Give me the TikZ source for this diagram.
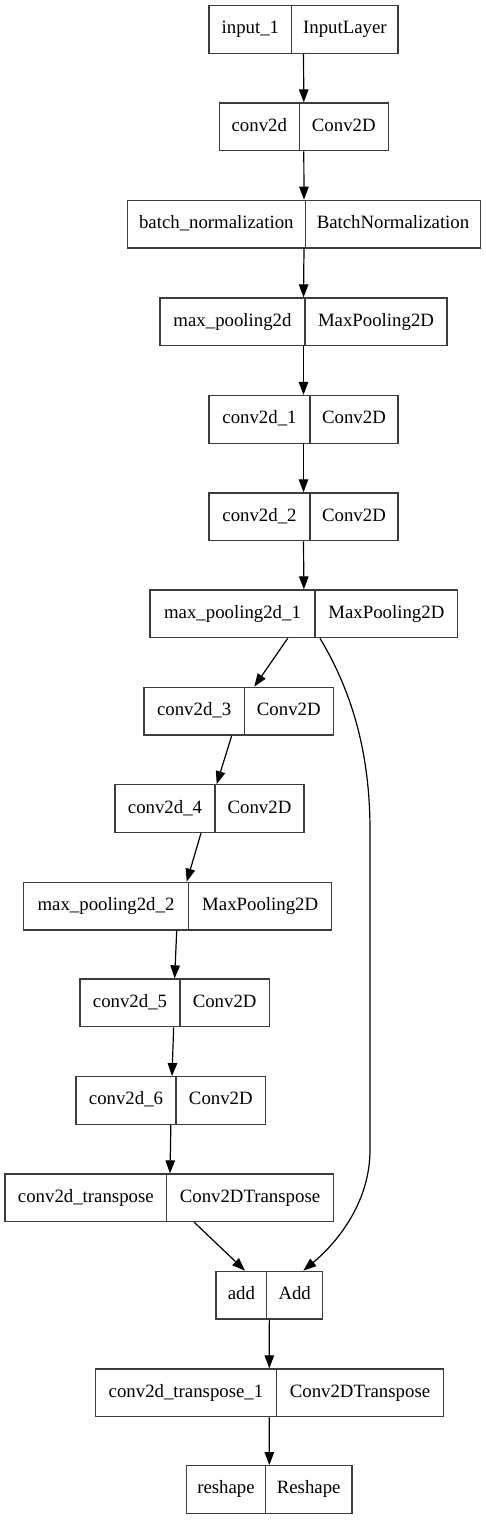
\documentclass[tikz,border=0pt]{standalone}
\usepackage{fontspec}
\setmainfont{Liberation Serif}
\usetikzlibrary{arrows.meta}
\definecolor{boxgray}{RGB}{60,60,60}
\tikzset{
  recbox/.style={draw=boxgray, line width=1.3pt, inner sep=0pt, minimum height=47.7pt},
  recline/.style={draw=boxgray, line width=1.3pt},
  rectxt/.style={inner sep=0pt, font=\fontsize{18.8}{22}\selectfont},
  edge/.style={draw=black, line width=1.2pt, -{Triangle[length=13pt,width=9.5pt]}}
}
\newcommand\rec[7]{%
  \pgfmathsetmacro\rw{#4-#2}%
  \pgfmathsetmacro\rcx{(#2+#4)/2}%
  \pgfmathsetmacro\ryc{-(#5+23.85)}%
  \pgfmathsetmacro\rlx{(#2+#3)/2}%
  \pgfmathsetmacro\rrx{(#3+#4)/2}%
  \pgfmathsetmacro\ryb{-(#5+47.7)}%
  \node[recbox, minimum width=\rw pt] (#1) at (\rcx,\ryc) {};
  \draw[recline] (#3,-#5) -- (#3,\ryb);
  \node[rectxt] at (\rlx,\ryc) {\strut #6};
  \node[rectxt] at (\rrx,\ryc) {\strut #7};
}
\begin{document}
\begin{tikzpicture}[x=1pt,y=1pt]
\useasboundingbox (0,0) rectangle (486,-1520);
\fill[white] (0,0) rectangle (486,-1520);
\rec{in}{209}{291.7}{398}{5.7}{input\_1}{InputLayer}
\rec{c0}{219.3}{299.3}{388.3}{103}{conv2d}{Conv2D}
\rec{bn}{127.3}{305.3}{480.7}{200.3}{batch\_normalization}{BatchNormalization}
\rec{mp}{160}{305}{447}{298}{max\_pooling2d}{MaxPooling2D}
\rec{c1}{209}{310}{398}{395.5}{conv2d\_1}{Conv2D}
\rec{c2}{209}{310}{398}{493}{conv2d\_2}{Conv2D}
\rec{mpa}{150}{315}{457.7}{590}{max\_pooling2d\_1}{MaxPooling2D}
\rec{c3}{144}{244.3}{333.3}{687.3}{conv2d\_3}{Conv2D}
\rec{c4}{115}{215}{304}{784.8}{conv2d\_4}{Conv2D}
\rec{mpb}{23.3}{188.7}{331.7}{882.3}{max\_pooling2d\_2}{MaxPooling2D}
\rec{c5}{80}{180}{269.3}{979}{conv2d\_5}{Conv2D}
\rec{c6}{76}{176}{265.7}{1076.7}{conv2d\_6}{Conv2D}
\rec{ct}{5}{166.7}{333.3}{1174}{conv2d\_transpose}{Conv2DTranspose}
\rec{add}{216}{266.7}{322.7}{1271.3}{add}{Add}
\rec{cta}{95.3}{276.7}{443.3}{1369}{conv2d\_transpose\_1}{Conv2DTranspose}
\rec{rs}{186.7}{265.3}{352}{1465.7}{reshape}{Reshape}
\draw[edge] (in.south) -- (c0.north);
\draw[edge] (c0.south) -- (bn.north);
\draw[edge] (bn.south) -- (mp.north);
\draw[edge] (mp.south) -- (c1.north);
\draw[edge] (c1.south) -- (c2.north);
\draw[edge] (c2.south) -- (mpa.north);
\draw[edge] ([xshift=-16.15pt]mpa.south) -- ([xshift=15.65pt]c3.north);
\draw[edge] ([xshift=-6.95pt]c3.south) -- ([xshift=7.2pt]c4.north);
\draw[edge] ([xshift=-8.5pt]c4.south) -- ([xshift=9.2pt]mpb.north);
\draw[edge] ([xshift=-0.8pt]mpb.south) -- (c5.north);
\draw[edge] ([xshift=-1pt]c5.south) -- ([xshift=1.15pt]c6.north);
\draw[edge] (c6.south) -- ([xshift=0.85pt]ct.north);
\draw[edge] ([xshift=25.15pt]ct.south) -- ([xshift=-24.35pt]add.north);
\draw[edge] ([xshift=16.15pt]mpa.south) .. controls (345,-680) and (370,-740) .. (370,-830) -- (370,-1150) .. controls (370,-1200) and (340,-1240) .. ([xshift=34pt]add.north);
\draw[edge] (add.south) -- (cta.north);
\draw[edge] (cta.south) -- (rs.north);
\end{tikzpicture}
\end{document}
